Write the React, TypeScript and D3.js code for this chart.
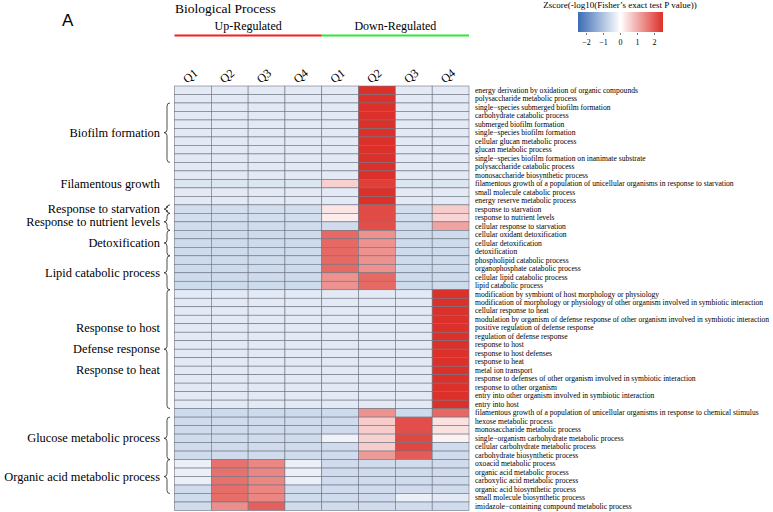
import React from "react";
import * as d3 from "d3";

// column headers and regulation groups
const columns = ["uQ1", "uQ2", "uQ3", "uQ4", "dQ1", "dQ2", "dQ3", "dQ4"];
const columnLabels = ["Q1", "Q2", "Q3", "Q4", "Q1", "Q2", "Q3", "Q4"];
const regulation = [
  { name: "Up-Regulated", color: "#ff1a1a", from: 0, to: 3 },
  { name: "Down-Regulated", color: "#33e633", from: 4, to: 7 },
];

const terms = [
  "energy derivation by oxidation of organic compounds",
  "polysaccharide metabolic process",
  "single\u2212species submerged biofilm formation",
  "carbohydrate catabolic process",
  "submerged biofilm formation",
  "single\u2212species biofilm formation",
  "cellular glucan metabolic process",
  "glucan metabolic process",
  "single\u2212species biofilm formation on inanimate substrate",
  "polysaccharide catabolic process",
  "monosaccharide biosynthetic process",
  "filamentous growth of a population of unicellular organisms in response to starvation",
  "small molecule catabolic process",
  "energy reserve metabolic process",
  "response to starvation",
  "response to nutrient levels",
  "cellular response to starvation",
  "cellular oxidant detoxification",
  "cellular detoxification",
  "detoxification",
  "phospholipid catabolic process",
  "organophosphate catabolic process",
  "cellular lipid catabolic process",
  "lipid catabolic process",
  "modification by symbiont of host morphology or physiology",
  "modification of morphology or physiology of other organism involved in symbiotic interaction",
  "cellular response to heat",
  "modulation by organism of defense response of other organism involved in symbiotic interaction",
  "positive regulation of defense response",
  "regulation of defense response",
  "response to host",
  "response to host defenses",
  "response to heat",
  "metal ion transport",
  "response to defenses of other organism involved in symbiotic interaction",
  "response to other organism",
  "entry into other organism involved in symbiotic interaction",
  "entry into host",
  "filamentous growth of a population of unicellular organisms in response to chemical stimulus",
  "hexose metabolic process",
  "monosaccharide metabolic process",
  "single\u2212organism carbohydrate metabolic process",
  "cellular carbohydrate metabolic process",
  "carbohydrate biosynthetic process",
  "oxoacid metabolic process",
  "organic acid metabolic process",
  "carboxylic acid metabolic process",
  "organic acid biosynthetic process",
  "small molecule biosynthetic process",
  "imidazole\u2212containing compound metabolic process",
];

// row z-scores, one array per term (uQ1..uQ4, dQ1..dQ4)
const zscores = [
  [-0.35, -0.35, -0.35, -0.35, -0.35, 2.47, -0.35, -0.35],
  [-0.35, -0.35, -0.35, -0.35, -0.35, 2.47, -0.35, -0.35],
  [-0.35, -0.35, -0.35, -0.35, -0.35, 2.47, -0.35, -0.35],
  [-0.35, -0.35, -0.35, -0.35, -0.35, 2.47, -0.35, -0.35],
  [-0.35, -0.35, -0.35, -0.35, -0.35, 2.47, -0.35, -0.35],
  [-0.35, -0.35, -0.35, -0.35, -0.35, 2.47, -0.35, -0.35],
  [-0.35, -0.35, -0.35, -0.35, -0.35, 2.47, -0.35, -0.35],
  [-0.35, -0.35, -0.35, -0.35, -0.35, 2.47, -0.35, -0.35],
  [-0.35, -0.35, -0.35, -0.35, -0.35, 2.47, -0.35, -0.35],
  [-0.35, -0.35, -0.35, -0.35, -0.35, 2.47, -0.35, -0.35],
  [-0.35, -0.35, -0.35, -0.35, -0.35, 2.47, -0.35, -0.35],
  [-0.45, -0.45, -0.45, -0.45, 0.55, 2.3, -0.45, -0.45],
  [-0.35, -0.35, -0.35, -0.35, -0.35, 2.47, -0.35, -0.35],
  [-0.35, -0.35, -0.35, -0.35, -0.35, 2.47, -0.35, -0.35],
  [-0.58, -0.58, -0.58, -0.58, 0.3, 2.15, -0.58, 0.6],
  [-0.58, -0.58, -0.58, -0.58, 0.22, 2.15, -0.58, 0.5],
  [-0.6, -0.6, -0.6, -0.6, -0.6, 2.1, -0.6, 1.1],
  [-0.62, -0.62, -0.62, -0.62, 1.8, 1.3, -0.62, -0.62],
  [-0.62, -0.62, -0.62, -0.62, 1.8, 1.3, -0.62, -0.62],
  [-0.62, -0.62, -0.62, -0.62, 1.8, 1.3, -0.62, -0.62],
  [-0.62, -0.62, -0.62, -0.62, 1.8, 1.3, -0.62, -0.62],
  [-0.62, -0.62, -0.62, -0.62, 1.8, 1.3, -0.62, -0.62],
  [-0.62, -0.62, -0.62, -0.62, 1.3, 1.8, -0.62, -0.62],
  [-0.62, -0.62, -0.62, -0.62, 1.3, 1.8, -0.62, -0.62],
  [-0.35, -0.35, -0.35, -0.35, -0.35, -0.35, -0.35, 2.47],
  [-0.35, -0.35, -0.35, -0.35, -0.35, -0.35, -0.35, 2.47],
  [-0.35, -0.35, -0.35, -0.35, -0.35, -0.35, -0.35, 2.47],
  [-0.35, -0.35, -0.35, -0.35, -0.35, -0.35, -0.35, 2.47],
  [-0.35, -0.35, -0.35, -0.35, -0.35, -0.35, -0.35, 2.47],
  [-0.35, -0.35, -0.35, -0.35, -0.35, -0.35, -0.35, 2.47],
  [-0.35, -0.35, -0.35, -0.35, -0.35, -0.35, -0.35, 2.47],
  [-0.35, -0.35, -0.35, -0.35, -0.35, -0.35, -0.35, 2.47],
  [-0.35, -0.35, -0.35, -0.35, -0.35, -0.35, -0.35, 2.47],
  [-0.35, -0.35, -0.35, -0.35, -0.35, -0.35, -0.35, 2.47],
  [-0.35, -0.35, -0.35, -0.35, -0.35, -0.35, -0.35, 2.47],
  [-0.35, -0.35, -0.35, -0.35, -0.35, -0.35, -0.35, 2.47],
  [-0.35, -0.35, -0.35, -0.35, -0.35, -0.35, -0.35, 2.47],
  [-0.35, -0.35, -0.35, -0.35, -0.35, -0.35, -0.35, 2.47],
  [-0.62, -0.62, -0.62, -0.62, -0.62, 1.3, -0.62, 1.8],
  [-0.6, -0.6, -0.6, -0.6, -0.6, 0.6, 2.1, 0.35],
  [-0.6, -0.6, -0.6, -0.6, -0.6, 0.6, 2.1, 0.35],
  [-0.6, -0.6, -0.6, -0.6, -0.2, 0.55, 2.2, 0.15],
  [-0.6, -0.6, -0.6, -0.6, -0.6, 0.6, 2.2, -0.6],
  [-0.6, -0.6, -0.6, -0.6, -0.6, 1.2, 1.95, -0.6],
  [-0.25, 1.7, 1.45, -0.25, -0.6, -0.6, -0.6, -0.6],
  [-0.25, 1.7, 1.45, -0.25, -0.6, -0.6, -0.6, -0.6],
  [-0.25, 1.7, 1.45, -0.25, -0.6, -0.6, -0.6, -0.6],
  [-0.6, 1.75, 1.45, -0.6, -0.6, -0.6, -0.6, -0.6],
  [-0.6, 1.75, 1.45, -0.6, -0.6, -0.6, -0.25, -0.35],
  [-0.6, 1.35, 1.9, -0.6, -0.6, -0.6, -0.6, -0.6],
];

// functional groups on the left (row index ranges)
const groups = [
  { labels: ["Biofilm formation"], from: 2, to: 8, brace: true },
  { labels: ["Filamentous growth"], from: 11, to: 11, brace: false },
  { labels: ["Response to starvation"], from: 14, to: 14, brace: true },
  { labels: ["Response to nutrient levels"], from: 15, to: 16, brace: true },
  { labels: ["Detoxification"], from: 17, to: 19, brace: true },
  { labels: ["Lipid catabolic process"], from: 20, to: 23, brace: true },
  { labels: ["Response to host", "Defense response", "Response to heat"], from: 24, to: 37, brace: true },
  { labels: ["Glucose metabolic process"], from: 39, to: 43, brace: true },
  { labels: ["Organic acid metabolic process"], from: 44, to: 47, brace: true },
];

const legendTicks = [-2, -1, 0, 1, 2];

const serif = "Liberation Serif, Times New Roman, serif";

function bracePath(x: number, y0: number, y1: number) {
  const w = 3;
  const ym = (y0 + y1) / 2;
  return `M${x + w},${y0} Q${x},${y0} ${x},${y0 + w} L${x},${ym - w} Q${x},${ym} ${x - w},${ym} Q${x},${ym} ${x},${ym + w} L${x},${y1 - w} Q${x},${y1} ${x + w},${y1}`;
}

export default function App() {
  const width = 773;
  const height = 512;

  const x = d3.scaleBand().domain(columns).range([174.5, 469]);
  const y = d3.scaleBand().domain(d3.range(terms.length).map(String)).range([86, 510.5]);
  const color = d3
    .scaleLinear<string>()
    .domain([-2.5, 0, 2.5])
    .range(["#3b6cb4", "#ffffff", "#dc2e28"])
    .clamp(true);

  const lx = d3.scaleLinear().domain([-2.5, 2.5]).range([578, 663]);
  const gradStops = d3.range(0, 1.0001, 0.05);

  const rowY = (i: number) => y(String(i)) as number;
  const bw = y.bandwidth();

  return (
    <svg width={width} height={height} style={{ position: "absolute", left: 0, top: 0 }}>
      <defs>
        <linearGradient id="zgrad" x1="0" x2="1" y1="0" y2="0">
          {gradStops.map((t) => (
            <stop key={t} offset={t} stopColor={color(-2.5 + 5 * t)} />
          ))}
        </linearGradient>
      </defs>

      <text x={62} y={26} fontFamily="Liberation Sans, Arial, sans-serif" fontSize={17}>A</text>

      <text x={175} y={13} fontFamily={serif} fontSize={13.5}>Biological Process</text>

      {regulation.map((r) => {
        const x0 = x(columns[r.from]) as number;
        const x1 = (x(columns[r.to]) as number) + x.bandwidth();
        return (
          <g key={r.name}>
            <text x={(x0 + x1) / 2} y={30} textAnchor="middle" fontFamily={serif} fontSize={12}>{r.name}</text>
            <line x1={x0} x2={x1} y1={35.5} y2={35.5} stroke={r.color} strokeWidth={2} />
          </g>
        );
      })}

      {/* legend */}
      <text x={620} y={8} textAnchor="middle" fontFamily={serif} fontSize={9}>
        Zscore(-log10(Fisher’s exact test P value))
      </text>
      <rect x={lx(-2.5)} y={12} width={lx(2.5) - lx(-2.5)} height={20} fill="url(#zgrad)" />
      {legendTicks.map((t) => (
        <g key={t}>
          <line x1={lx(t)} x2={lx(t)} y1={33} y2={35} stroke="#555" strokeWidth={0.8} />
          <text x={lx(t)} y={45} textAnchor="middle" fontFamily={serif} fontSize={8}>
            {t < 0 ? "\u2212" + Math.abs(t) : t}
          </text>
        </g>
      ))}

      {/* column labels */}
      {columns.map((c, i) => {
        const cx = (x(c) as number) + x.bandwidth() / 2;
        return (
          <text
            key={c}
            transform={`translate(${cx},${79}) rotate(-40)`}
            textAnchor="middle"
            fontFamily={serif}
            fontSize={12}
          >
            {columnLabels[i]}
          </text>
        );
      })}

      {/* cells */}
      {zscores.map((row, i) =>
        row.map((v, j) => (
          <rect
            key={`${i}-${j}`}
            x={x(columns[j])}
            y={rowY(i)}
            width={x.bandwidth()}
            height={bw}
            fill={color(v)}
            stroke="#6e7480"
            strokeWidth={0.6}
          />
        ))
      )}

      {/* row labels */}
      {terms.map((t, i) => (
        <text key={i} x={475} y={rowY(i) + bw / 2} dy="0.33em" fontFamily={serif} fontSize={7.6}>
          {t}
        </text>
      ))}

      {/* group labels with braces */}
      {groups.map((g, gi) => {
        const y0 = rowY(g.from);
        const y1 = rowY(g.to) + bw;
        const ym = (y0 + y1) / 2;
        const spacing = 20.8;
        return (
          <g key={gi}>
            {g.brace && <path d={bracePath(167, y0, y1)} fill="none" stroke="#222" strokeWidth={0.8} />}
            {g.labels.map((l, li) => (
              <text
                key={l}
                x={160}
                y={ym + (li - (g.labels.length - 1) / 2) * spacing}
                dy="0.33em"
                textAnchor="end"
                fontFamily={serif}
                fontSize={12.4}
              >
                {l}
              </text>
            ))}
          </g>
        );
      })}
    </svg>
  );
}
